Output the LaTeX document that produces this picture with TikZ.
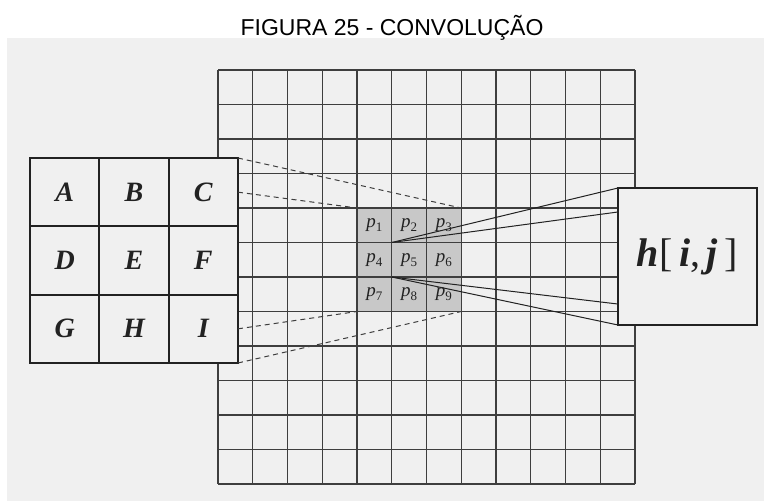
\documentclass[tikz,border=0pt]{standalone}
\usepackage{fontspec}
\setmainfont{Liberation Serif}
\newfontfamily\titlefont{Liberation Sans}
\usetikzlibrary{calc}
\definecolor{bgscan}{RGB}{240,240,240}
\definecolor{gridc}{RGB}{62,62,62}
\definecolor{shadec}{RGB}{200,200,200}
\definecolor{inkc}{RGB}{34,34,34}
\newcommand\plab[1]{\textit{p}\kern0.2pt\raisebox{-4pt}{\fontsize{13}{13}\selectfont #1}}
\begin{document}
\begin{tikzpicture}[x=1pt,y=-1pt,
  titletext/.style={font=\titlefont\fontsize{23}{23}\selectfont, inner sep=0pt, anchor=base},
  gridline/.style={draw=gridc, line width=1.2pt},
  nbhd/.style={fill=shadec, minimum width=104.25pt, minimum height=103.5pt, inner sep=0pt, outer sep=0pt},
  pcell/.style={minimum width=34.75pt, minimum height=34.5pt, inner sep=0pt, outer sep=0pt, font=\fontsize{19}{19}\selectfont, text=inkc},
  kcell/.style={draw=inkc, fill=bgscan, line width=2pt, minimum width=69.33pt, minimum height=68.33pt, inner sep=0pt, outer sep=0pt, font=\fontsize{28}{28}\selectfont\bfseries\itshape, text=inkc},
  hbox/.style={draw=inkc, fill=bgscan, line width=2pt, minimum width=139pt, minimum height=137pt, inner sep=0pt, outer sep=0pt, font=\fontsize{40}{40}\selectfont, text=inkc},
  dashline/.style={draw=gridc, line width=1pt, dash pattern=on 5pt off 4pt},
  linkline/.style={draw=inkc, line width=1pt}
]
\useasboundingbox (0,0) rectangle (764,501);
\fill[white] (0,0) rectangle (764,501);
\fill[bgscan] (7,38) rectangle (764,501);
\node[titletext] (title) at (392,35) {FIGURA 25 - CONVOLUÇÃO};
% neighbourhood shading
\node[nbhd] (nb) at (409.125,259.75) {};
% image grid
\foreach \i in {0,...,12} {
  \draw[gridline] ({218+34.75*\i},70) -- ({218+34.75*\i},484);
  \draw[gridline] (218,{70+34.5*\i}) -- (635,{70+34.5*\i});
}
% p labels
\foreach \r in {0,1,2} {
  \foreach \c in {0,1,2} {
    \pgfmathtruncatemacro{\k}{3*\r+\c+1}
    \node[pcell] (p\k) at ({357+34.75*(\c+0.5)},{208+34.5*(\r+0.5)}) {\plab{\k}};
  }
}
% kernel
\foreach \name/\c/\r in {A/0/0,B/1/0,C/2/0,D/0/1,E/1/1,F/2/1,G/0/2,H/1/2,I/2/2} {
  \node[kcell] (k\name) at ({30+69.33*(\c+0.5)},{158+68.33*(\r+0.5)}) {\name};
}
% output box
\node[hbox] (h) at (687.5,256.5) {\textbf{\textit{h}}[\,\textbf{\textit{i}},\,\textbf{\textit{j}}\,]};
% dashed projections
\draw[dashline] (kC.north east) -- (nb.north east);
\draw[dashline] (kC.east) -- (nb.north west);
\draw[dashline] (kI.east) -- (nb.south west);
\draw[dashline] (kI.south east) -- (nb.south east);
% solid links
\coordinate (h1) at ($(h.north west)!0.175!(h.south west)$);
\coordinate (h2) at ($(h.north west)!0.847!(h.south west)$);
\draw[linkline] (h.north west) -- (p5.north west);
\draw[linkline] (h1) -- (p5.north west);
\draw[linkline] (h2) -- (p5.south west);
\draw[linkline] (h.south west) -- (p5.south west);
\end{tikzpicture}
\end{document}
